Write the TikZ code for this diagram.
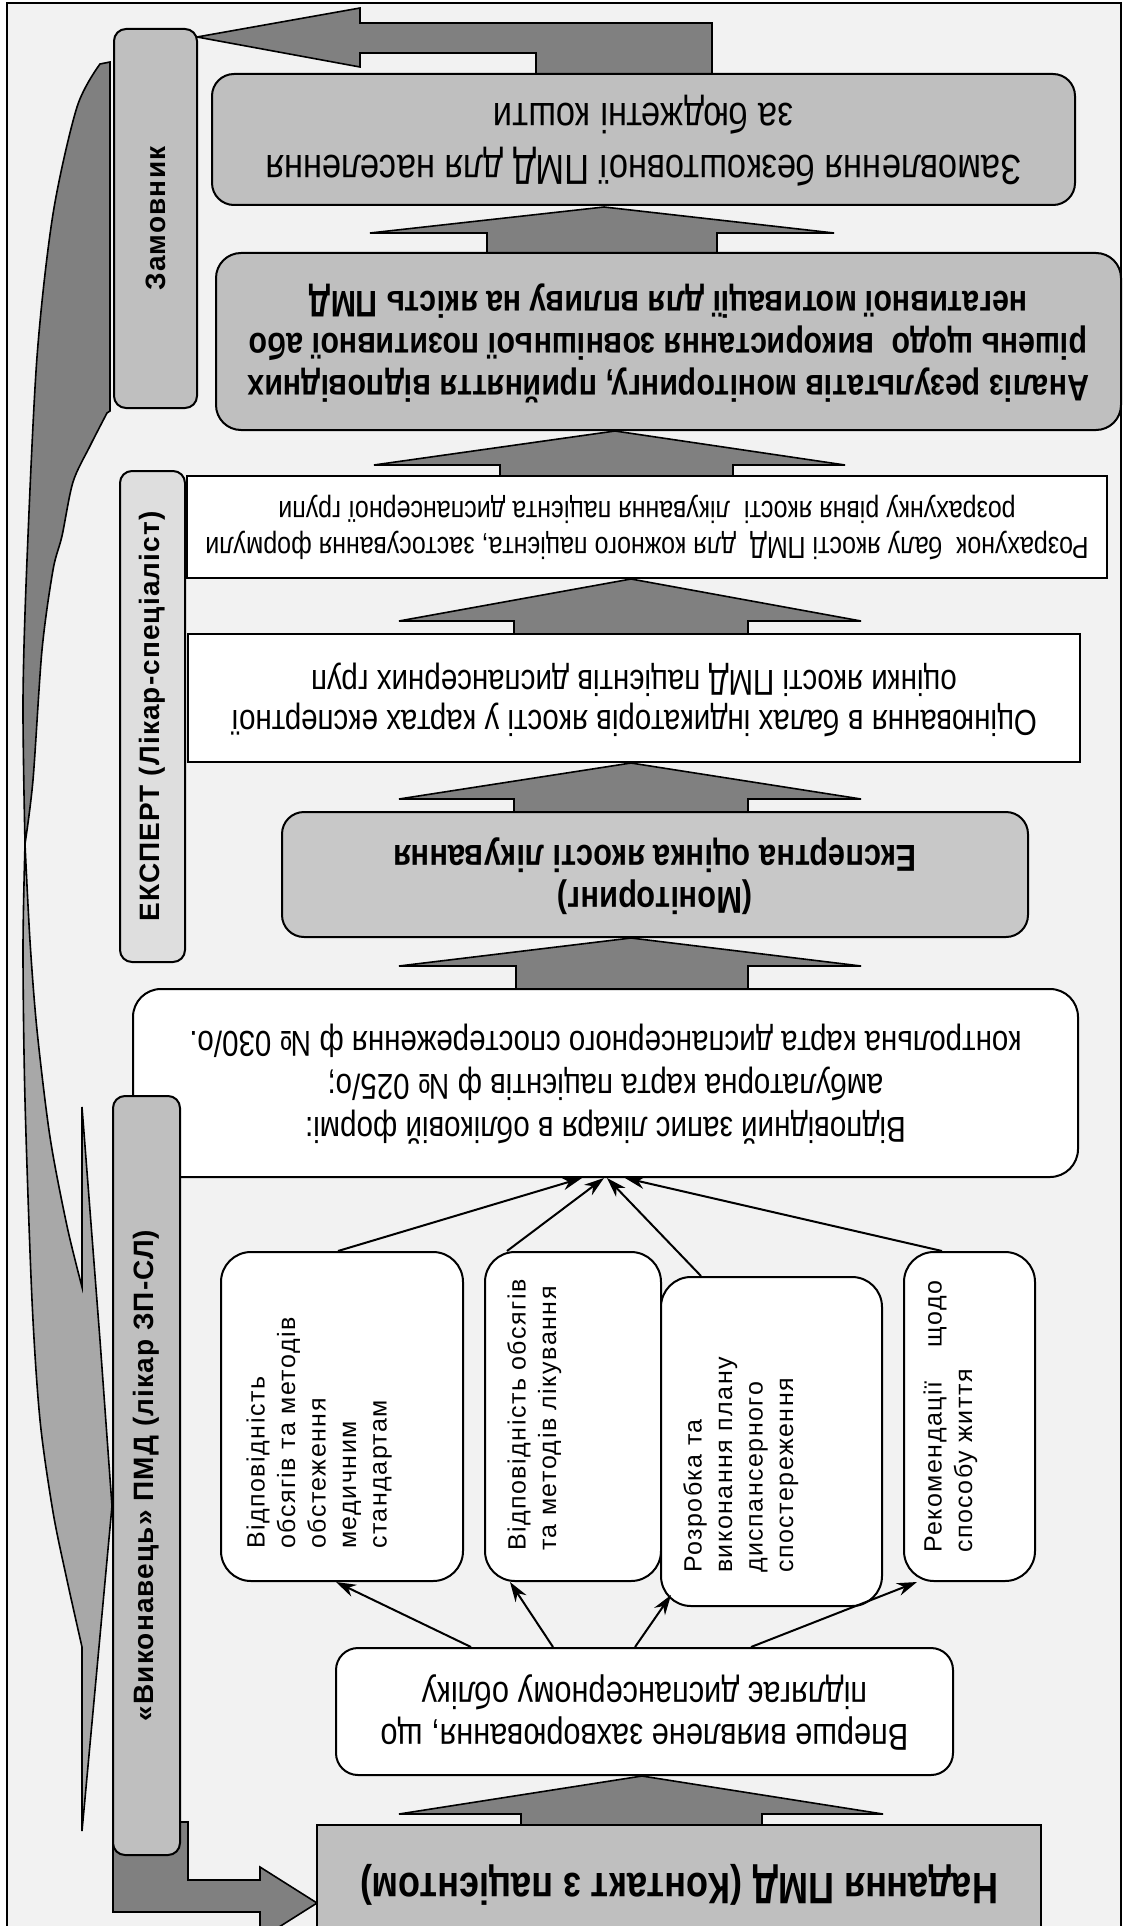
\documentclass[tikz,border=0pt]{standalone}
\usepackage{fontspec}
\usepackage{graphicx}
\setmainfont{Liberation Sans}
\newfontfamily\nar[FakeStretch=0.82]{Liberation Sans}
\newfontfamily\lblf[LetterSpace=4]{Liberation Sans}
\newfontfamily\smf[LetterSpace=6]{Liberation Sans}
\usetikzlibrary{arrows.meta}
\definecolor{bgc}{HTML}{F2F2F2}
\definecolor{arrc}{HTML}{808080}
\definecolor{boxg}{HTML}{BFBFBF}
\definecolor{monc}{HTML}{C8C8C8}
\definecolor{expc}{HTML}{DEDEDE}
\definecolor{lightc}{HTML}{A8A8A8}
\newcommand{\updn}[1]{\rotatebox{180}{\begin{tabular}{@{}c@{}}#1\end{tabular}}}
\newcommand{\vup}[1]{\rotatebox{90}{\begin{tabular}{@{}l@{}}#1\end{tabular}}}
\newcommand{\bup}[8]{\filldraw[barrow] (#1,#2) -- (#5,#3) -- (#7,#3) -- (#7,#8) -- (#6,#8) -- (#6,#3) -- (#4,#3) -- cycle;}
\begin{document}
\begin{tikzpicture}[x=1pt,y=-1pt,
  box/.style={draw=black, line width=2pt, inner sep=0pt},
  barrow/.style={draw=black, line width=1.6pt, fill=arrc, line join=miter},
  tarrow/.style={draw=black, line width=2pt, -{Stealth[length=20pt,width=13pt]}},
  lbl/.style={box, rounded corners=12pt, font=\lblf\bfseries\fontsize{28}{34}\selectfont},
  small/.style={anchor=south west, inner sep=0pt, font=\smf\fontsize{25}{30.5}\selectfont}]
\useasboundingbox (0,0) rectangle (1127,1926);
\clip (0,0) rectangle (1127,1926);
\draw[line width=2pt, fill=bgc] (7,3) rectangle (1121,1980);

% curved arrow on the left
\filldraw[draw=black, line width=1.6pt, fill=arrc] plot[smooth] coordinates {(25,844) (23,700) (27,560) (37,357) (53,214) (77,107) (100,64)} -- (110,62) -- (110,411) -- plot[smooth] coordinates {(107,413) (90,446) (73,482) (62,536) (53,570) (42,650) (33,780) (25,844)} -- cycle;
\filldraw[draw=black, line width=1.6pt, fill=lightc] plot[smooth] coordinates {(25,844) (23,950) (25,1100) (32,1300) (40,1420) (53,1512) (67,1580) (82,1647)} -- (82,1831) -- (112,1506) -- (100,1340) -- (82,1107) -- plot[smooth] coordinates {(82,1287) (67,1226) (50,1137) (37,1030) (30,941) (25,844)} -- cycle;

% bent arrows
\filldraw[barrow] (536,74) -- (536,53) -- (360,53) -- (360,67) -- (197,37) -- (360,8) -- (360,23) -- (712,23) -- (712,74) -- cycle;
\filldraw[barrow] (113,1822) -- (113,1912) -- (260,1912) -- (260,1939) -- (317,1903) -- (260,1867) -- (260,1880) -- (188,1880) -- (188,1822) -- cycle;

% block up arrows
\bup{604}{207}{233}{370}{834}{487}{717}{254}
\bup{615}{431}{465}{374}{845}{500}{733}{477}
\bup{631}{579}{621}{399}{861}{514}{748}{635}
\bup{631}{763}{799}{399}{861}{514}{748}{813}
\bup{631}{938}{966}{399}{861}{516}{748}{990}
\bup{642}{1776}{1814}{399}{883}{521}{762}{1826}

% main boxes
\node[box, rounded corners=22pt, fill=boxg, minimum width=863pt, minimum height=131pt, font=\nar\fontsize{42}{52}\selectfont] (zam) at (643.5,139.5) {\updn{Замовлення безкоштовної ПМД для населення\\за бюджетні кошти}};
\node[box, rounded corners=25pt, fill=boxg, minimum width=905pt, minimum height=177pt, font=\nar\bfseries\fontsize{37}{42}\selectfont] (anal) at (668.5,341.5) {\updn{Аналіз результатів моніторингу, прийняття відповідних\\рішень щодо\ \ використання зовнішньої позитивної або\\негативної мотивації для впливу на якість ПМД}};
\node[box, fill=white, minimum width=920pt, minimum height=102pt, font=\nar\fontsize{30.5}{36}\selectfont] (rozr) at (647,527) {\updn{Розрахунок\ \ балу якості ПМД\ \ для кожного пацієнта, застосування формули\\розрахунку рівня якості\ \ лікування пацієнта диспансерної групи}};
\node[box, fill=white, minimum width=892pt, minimum height=128pt, font=\nar\fontsize{36}{40}\selectfont] (ocin) at (634,698) {\updn{Оцінювання в балах індикаторів якості у картах експертної\\оцінки якості ПМД пацієнтів диспансерних груп}};
\node[box, rounded corners=22pt, fill=monc, minimum width=746pt, minimum height=125pt, font=\nar\bfseries\fontsize{37.5}{42}\selectfont] (mon) at (655,874.5) {\updn{(Моніторинг)\\Експертна оцінка якості лікування}};
\node[box, rounded corners=28pt, fill=white, minimum width=945pt, minimum height=188pt, font=\nar\fontsize{36}{43}\selectfont] (vidp) at (605.5,1083) {\updn{Відповідний запис лікаря в обліковій формі:\\амбулаторна карта пацієнтів ф № 025/о;\\контрольна карта диспансерного спостереження ф № 030/о.}};

% small boxes
\node[box, rounded corners=30pt, fill=white, minimum width=242pt, minimum height=329pt] (s1) at (342,1416.5) {};
\node[box, rounded corners=30pt, fill=white, minimum width=176pt, minimum height=329pt] (s2) at (573,1416.5) {};
\node[box, rounded corners=30pt, fill=white, minimum width=221pt, minimum height=329pt] (s3) at (771.5,1441.5) {};
\node[box, rounded corners=30pt, fill=white, minimum width=131pt, minimum height=329pt] (s4) at (969.5,1416.5) {};
\node[small] (t1) at (243,1549) {\vup{Відповідність\\обсягів та методів\\обстеження\\медичним\\стандартам}};
\node[small] (t2) at (504,1551) {\vup{Відповідність обсягів\\та методів лікування}};
\node[small] (t3) at (680,1573) {\vup{Розробка та\\виконання плану\\диспансерного\\спостереження}};
\node[small] (t4) at (920,1553) {\vup{\makebox[272pt][s]{Рекомендації\ щодо}\\способу життя}};

\node[box, rounded corners=22pt, fill=white, minimum width=617pt, minimum height=127pt, font=\nar\fontsize{37.5}{42}\selectfont] (vpe) at (644.5,1711.5) {\updn{Вперше виявлене захворювання, що\\підлягає диспансерному обліку}};
\node[box, fill=boxg, minimum width=724pt, minimum height=116pt, font=\nar\bfseries\fontsize{44}{50}\selectfont] (nad) at (679,1883) {\updn{Надання ПМД (Контакт з пацієнтом)}};

% role labels
\node[lbl, fill=boxg, minimum width=83pt, minimum height=379pt] (zamk) at (155.5,218.5) {\rotatebox{90}{Замовник}};
\node[lbl, fill=expc, minimum width=65pt, minimum height=491pt] (eksp) at (152.5,716.5) {\rotatebox{90}{ЕКСПЕРТ (Лікар-спеціаліст)}};
\node[lbl, fill=boxg, minimum width=67pt, minimum height=759pt] (vyk) at (146.5,1475.5) {\rotatebox{90}{«Виконавець» ПМД (лікар ЗП-СЛ)}};

% thin arrows
\draw[tarrow] ([xshift=-173.5pt]vpe.north) -- ([xshift=-6pt]s1.south);
\draw[tarrow] ([xshift=-91.5pt]vpe.north) -- ([xshift=-63pt]s2.south);
\draw[tarrow] ([xshift=-9.5pt]vpe.north) -- ([xshift=11pt,yshift=12pt]s3.south west);
\draw[tarrow] ([xshift=106.5pt]vpe.north) -- ([xshift=-52.5pt]s4.south);
\draw[tarrow] ([xshift=-4pt]s1.north) -- ([xshift=-23.5pt]vidp.south);
\draw[tarrow] ([xshift=-66pt]s2.north) -- ([xshift=-1.5pt]vidp.south);
\draw[tarrow] ([xshift=-70.5pt]s3.north) -- ([xshift=1.5pt]vidp.south);
\draw[tarrow] ([xshift=-27.5pt]s4.north) -- ([xshift=19.5pt]vidp.south);
\end{tikzpicture}
\end{document}
